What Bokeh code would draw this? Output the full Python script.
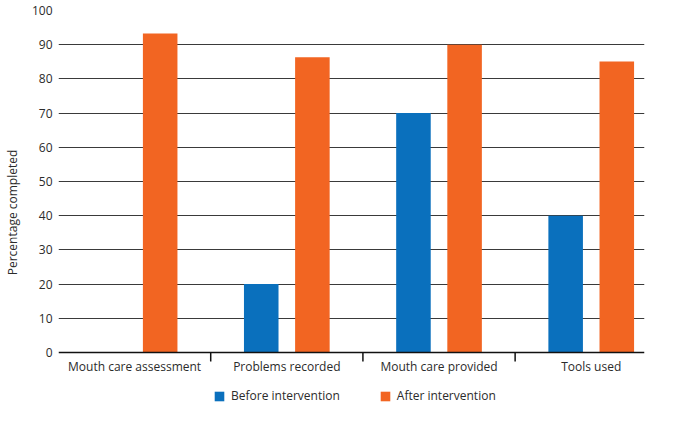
from bokeh.plotting import figure
from bokeh.models import Range1d, FixedTicker, Legend, LegendItem, Span
from bokeh.core.properties import value
from bokeh.embed import file_html
from bokeh.resources import INLINE

categories = ["Mouth care assessment", "Problems recorded", "Mouth care provided", "Tools used"]
before = [0, 20, 70, 40]
after = [93.3, 86.3, 90, 85.1]
y_ticks = [0, 10, 20, 30, 40, 50, 60, 70, 80, 90, 100]
series_names = ["Before intervention", "After intervention"]

BLUE = "#0a70bd"
ORANGE = "#f26522"
TEXT = "#2b2b2b"
FONT = "Open Sans"

pos = [i + 1 for i in range(len(categories))]
bounds = [i + 1.5 for i in range(len(categories) - 1)]
off = 0.168
bw = 0.227
px_per_unit = 342 / 100.0          # frame pixels per percentage point
y_bottom = -62 / px_per_unit       # extra room below zero for labels + legend
label_y = -14 / px_per_unit
tick_y = -9 / px_per_unit

p = figure(width=669, height=414, output_backend="svg", toolbar_location=None,
           x_range=Range1d(0.5, 4.35), y_range=Range1d(y_bottom, 100),
           x_axis_location=None,
           min_border_left=49, min_border_right=25, min_border_top=10, min_border_bottom=0)
p.outline_line_color = None
p.xgrid.grid_line_color = None
p.ygrid.grid_line_color = "#3a3a3a"
p.ygrid.grid_line_width = 1.2
p.ygrid.ticker = FixedTicker(ticks=y_ticks[1:])

r1 = p.vbar(x=[x - off for x in pos], bottom=0, top=before, width=bw, fill_color=BLUE, line_color=None)
r2 = p.vbar(x=[x + off for x in pos], bottom=0, top=after, width=bw, fill_color=ORANGE, line_color=None)

# category axis: baseline, boundary ticks, labels
p.add_layout(Span(location=0, dimension="width", line_color="#111111", line_width=1.5))
p.segment(x0=bounds, y0=[0] * len(bounds), x1=bounds, y1=[tick_y] * len(bounds),
          line_color="#111111", line_width=1.5)
p.text(x=pos, y=[label_y] * len(pos), text=categories, text_align="center",
       text_baseline="middle", text_font=value(FONT), text_font_size="12px",
       text_color=TEXT)

# y axis
ya = p.yaxis[0]
ya.ticker = FixedTicker(ticks=y_ticks)
ya.axis_line_color = None
ya.major_tick_line_color = None
ya.minor_tick_line_color = None
ya.major_tick_out = 0
ya.major_tick_in = 0
ya.major_label_standoff = 6
ya.major_label_text_font = FONT
ya.major_label_text_font_size = "12px"
ya.major_label_text_color = TEXT
ya.axis_label = "Percentage completed"
ya.axis_label_text_font = FONT
ya.axis_label_text_font_size = "12px"
ya.axis_label_text_font_style = "normal"
ya.axis_label_text_color = TEXT
ya.axis_label_standoff = 8

legend = Legend(items=[LegendItem(label=series_names[0], renderers=[r1]),
                       LegendItem(label=series_names[1], renderers=[r2])],
                orientation="horizontal", location=(155, 10))
legend.border_line_color = None
legend.background_fill_alpha = 0
legend.label_text_font = FONT
legend.label_text_font_size = "12px"
legend.label_text_color = TEXT
legend.glyph_width = 12
legend.glyph_height = 12
legend.label_standoff = 6
legend.spacing = 39
legend.padding = 0
legend.margin = 0
p.add_layout(legend, "center")

open("out.html", "w").write(file_html(p, INLINE))
